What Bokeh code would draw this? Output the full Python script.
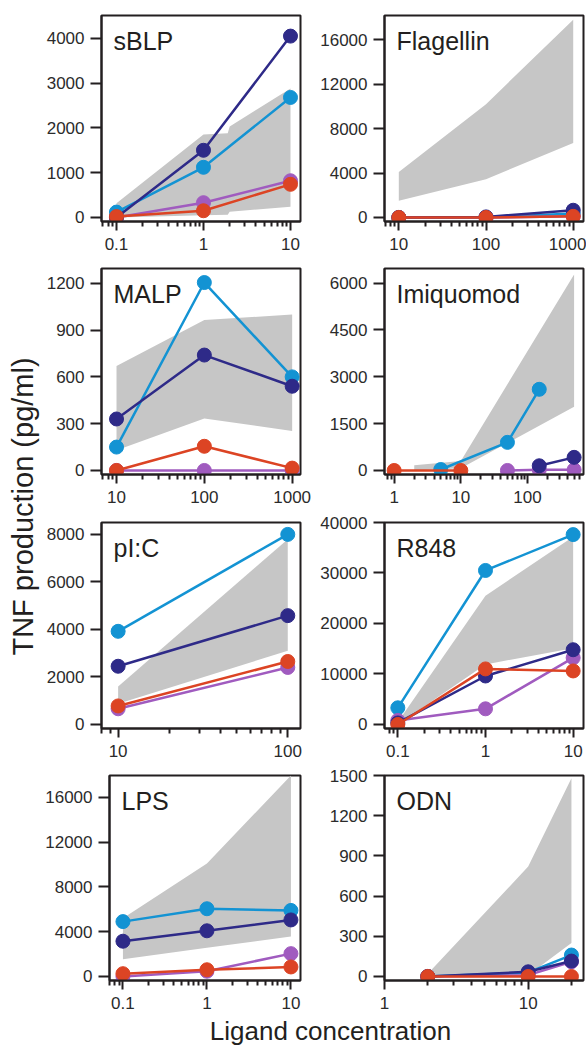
import math
from bokeh.plotting import figure
from bokeh.models import Range1d, FixedTicker, PrintfTickFormatter, Label
from bokeh.layouts import row, column
from bokeh.embed import file_html
from bokeh.resources import INLINE

# ---------------- data ----------------
# sBLP
sblp_x = [0.1, 1, 10]
sblp_lightblue = [120, 1120, 2680]
sblp_darkblue = [0, 1500, 4050]
sblp_purple = [0, 330, 820]
sblp_red = [20, 150, 740]
sblp_band_x = [0.1, 1, 1.9, 2, 10]
sblp_band_low = [0, 50, 60, 130, 240]
sblp_band_high = [320, 1850, 1880, 2030, 2880]
sblp_xticks = [0.1, 1, 10]
sblp_yticks = [0, 1000, 2000, 3000, 4000]

# Flagellin
flag_x = [10, 100, 1000]
flag_lightblue = [0, 0, 350]
flag_darkblue = [0, 50, 650]
flag_purple = [0, 0, 100]
flag_red = [0, 0, 100]
flag_band_x = [10, 100, 1000]
flag_band_low = [1500, 3450, 6700]
flag_band_high = [4100, 10200, 17800]
flag_xticks = [10, 100, 1000]
flag_yticks = [0, 4000, 8000, 12000, 16000]

# MALP
malp_x = [10, 100, 1000]
malp_lightblue = [150, 1205, 600]
malp_darkblue = [330, 740, 540]
malp_purple = [0, 0, 0]
malp_red = [0, 155, 15]
malp_band_x = [10, 100, 1000]
malp_band_low = [130, 333, 253]
malp_band_high = [670, 965, 1000]
malp_xticks = [10, 100, 1000]
malp_yticks = [0, 300, 600, 900, 1200]

# Imiquomod
imq_lightblue_x = [5, 50, 150]
imq_lightblue = [30, 900, 2600]
imq_purple_x = [50, 150, 500]
imq_purple = [0, 20, 20]
imq_darkblue_x = [150, 500]
imq_darkblue = [150, 420]
imq_red_x = [1, 10]
imq_red = [0, 0]
imq_band_x = [2, 10, 500]
imq_band_low = [0, 70, 2040]
imq_band_high = [170, 300, 6280]
imq_xticks = [1, 10, 100]
imq_yticks = [0, 1500, 3000, 4500, 6000]

# pI:C
pic_x = [10, 100]
pic_lightblue = [3920, 8000]
pic_darkblue = [2450, 4580]
pic_purple = [660, 2400]
pic_red = [780, 2650]
pic_band_x = [10, 100]
pic_band_low = [870, 3100]
pic_band_high = [1600, 7800]
pic_xticks = [10, 100]
pic_yticks = [0, 2000, 4000, 6000, 8000]

# R848
r848_x = [0.1, 1, 10]
r848_lightblue = [3300, 30500, 37600]
r848_darkblue = [300, 9600, 14800]
r848_purple = [800, 3100, 13200]
r848_red = [0, 11000, 10600]
r848_band_x = [0.1, 1, 10]
r848_band_low = [0, 11900, 15100]
r848_band_high = [500, 25500, 37200]
r848_xticks = [0.1, 1, 10]
r848_yticks = [0, 10000, 20000, 30000, 40000]

# LPS
lps_x = [0.1, 1, 10]
lps_lightblue = [4900, 6050, 5900]
lps_darkblue = [3150, 4080, 5050]
lps_purple = [0, 470, 2040]
lps_red = [250, 600, 850]
lps_band_x = [0.1, 1, 10]
lps_band_low = [1550, 2560, 3580]
lps_band_high = [5200, 10100, 17950]
lps_xticks = [0.1, 1, 10]
lps_yticks = [0, 4000, 8000, 12000, 16000]

# ODN
odn_x = [2, 10, 20]
odn_lightblue = [0, 30, 160]
odn_darkblue = [0, 35, 115]
odn_purple = [0, 10, 110]
odn_red = [0, 0, 0]
odn_band_x = [2, 10, 20]
odn_band_low = [0, 10, 250]
odn_band_high = [20, 820, 1480]
odn_xticks = [1, 10]
odn_yticks = [0, 300, 600, 900, 1200, 1500]

# ---------------- style ----------------
FONT = "Liberation Sans"
INK = "#231f20"
TXT = "#2b2b2b"
C_LB = "#1393d3"
C_DB = "#2e2a88"
C_PU = "#a05bbf"
C_RD = "#dc4424"
C_BAND = "#c6c6c6"

YLAB_W = 42
LEFT_W, LEFT_BL, LEFT_BR = 273, 59, 15
RIGHT_W, RIGHT_BL, RIGHT_BR = 271, 69, 3
# (figure height, top border, bottom border)
ROWS = [(257, 15, 36), (254, 11, 37), (253, 11, 36), (252, 11, 36)]
XLAB_H = 29


def minor_ticks(lo, hi):
    out = []
    for d in range(math.floor(lo) - 1, math.ceil(hi) + 1):
        for m in range(2, 10):
            v = m * 10.0 ** d
            if 10 ** lo <= v <= 10 ** hi:
                out.append(v)
    return out


def panel(name, side, rowi, xlim, ytop, xticks, yticks, band, series):
    fh, bt, bb = ROWS[rowi]
    if side == "L":
        w, bl, br = LEFT_W, LEFT_BL, LEFT_BR
    else:
        w, bl, br = RIGHT_W, RIGHT_BL, RIGHT_BR
    p = figure(width=w, height=fh, x_axis_type="log", title=None,
               x_range=Range1d(10 ** xlim[0], 10 ** xlim[1]),
               y_range=Range1d(-0.02 * ytop, ytop),
               min_border_left=bl, min_border_right=br,
               min_border_top=bt, min_border_bottom=bb,
               output_backend="svg", toolbar_location=None)
    p.xgrid.visible = False
    p.ygrid.visible = False
    p.outline_line_color = INK
    p.outline_line_width = 2
    p.outline_line_alpha = 1

    p.xaxis.ticker = FixedTicker(ticks=xticks, minor_ticks=minor_ticks(*xlim))
    p.xaxis.formatter = PrintfTickFormatter(format="%g")
    p.yaxis.ticker = FixedTicker(ticks=yticks)
    p.yaxis.formatter = PrintfTickFormatter(format="%d")
    for ax in (p.xaxis[0], p.yaxis[0]):
        ax.axis_line_color = INK
        ax.axis_line_width = 2
        ax.major_tick_line_color = INK
        ax.major_tick_line_width = 2
        ax.minor_tick_line_color = INK
        ax.minor_tick_line_width = 2
        ax.major_tick_in = 0
        ax.minor_tick_in = 0
        ax.major_label_text_font = FONT
        ax.major_label_text_font_size = "17px"
        ax.major_label_text_color = TXT
    p.xaxis.major_tick_out = 9
    p.xaxis.minor_tick_out = 5
    p.xaxis.major_label_standoff = 7
    p.yaxis.major_tick_out = 11
    p.yaxis.minor_tick_out = 0
    p.yaxis.major_label_standoff = 6

    bx, blo, bhi = band
    p.varea(x=bx, y1=blo, y2=bhi, fill_color=C_BAND, fill_alpha=1)
    for xs, ys, c in series:
        p.line(xs, ys, line_color=c, line_width=2.5)
        p.scatter(xs, ys, size=14, fill_color=c, line_color=c, line_width=1)

    frame_h = fh - bt - bb
    p.add_layout(Label(x=12, y=frame_h - 25, x_units="screen", y_units="screen",
                       text=name, text_font=FONT, text_font_size="25px",
                       text_color=INK, text_baseline="middle", text_align="left"))
    return p


p1 = panel("sBLP", "L", 0, (-1.172, 1.115), 4510, sblp_xticks, sblp_yticks,
           (sblp_band_x, sblp_band_low, sblp_band_high),
           [(sblp_x, sblp_lightblue, C_LB), (sblp_x, sblp_purple, C_PU),
            (sblp_x, sblp_darkblue, C_DB), (sblp_x, sblp_red, C_RD)])
p2 = panel("Flagellin", "R", 0, (0.836, 3.118), 18180, flag_xticks, flag_yticks,
           (flag_band_x, flag_band_low, flag_band_high),
           [(flag_x, flag_lightblue, C_LB), (flag_x, flag_purple, C_PU),
            (flag_x, flag_darkblue, C_DB), (flag_x, flag_red, C_RD)])
p3 = panel("MALP", "L", 1, (0.829, 3.095), 1295, malp_xticks, malp_yticks,
           (malp_band_x, malp_band_low, malp_band_high),
           [(malp_x, malp_lightblue, C_LB), (malp_x, malp_purple, C_PU),
            (malp_x, malp_darkblue, C_DB), (malp_x, malp_red, C_RD)])
p4 = panel("Imiquomod", "R", 1, (-0.145, 2.84), 6470, imq_xticks, imq_yticks,
           (imq_band_x, imq_band_low, imq_band_high),
           [(imq_lightblue_x, imq_lightblue, C_LB), (imq_purple_x, imq_purple, C_PU),
            (imq_darkblue_x, imq_darkblue, C_DB), (imq_red_x, imq_red, C_RD)])
p5 = panel("pI:C", "L", 2, (0.902, 2.075), 8500, pic_xticks, pic_yticks,
           (pic_band_x, pic_band_low, pic_band_high),
           [(pic_x, pic_lightblue, C_LB), (pic_x, pic_purple, C_PU),
            (pic_x, pic_darkblue, C_DB), (pic_x, pic_red, C_RD)])
p6 = panel("R848", "R", 2, (-1.152, 1.118), 40000, r848_xticks, r848_yticks,
           (r848_band_x, r848_band_low, r848_band_high),
           [(r848_x, r848_lightblue, C_LB), (r848_x, r848_purple, C_PU),
            (r848_x, r848_darkblue, C_DB), (r848_x, r848_red, C_RD)])
p7 = panel("LPS", "L", 3, (-1.16, 1.114), 17950, lps_xticks, lps_yticks,
           (lps_band_x, lps_band_low, lps_band_high),
           [(lps_x, lps_lightblue, C_LB), (lps_x, lps_purple, C_PU),
            (lps_x, lps_darkblue, C_DB), (lps_x, lps_red, C_RD)])
p8 = panel("ODN", "R", 3, (0.0, 1.385), 1500, odn_xticks, odn_yticks,
           (odn_band_x, odn_band_low, odn_band_high),
           [(odn_x, odn_lightblue, C_LB), (odn_x, odn_purple, C_PU),
            (odn_x, odn_darkblue, C_DB), (odn_x, odn_red, C_RD)])


def text_fig(w, h):
    f = figure(width=w, height=h, x_range=Range1d(0, 1), y_range=Range1d(0, 1),
               x_axis_location=None, y_axis_location=None, title=None,
               min_border=0, min_border_left=0, min_border_right=0,
               min_border_top=0, min_border_bottom=0,
               output_backend="svg", toolbar_location=None)
    f.xgrid.visible = False
    f.ygrid.visible = False
    f.outline_line_color = None
    return f


grid_h = sum(r[0] for r in ROWS)
ylab = text_fig(YLAB_W, grid_h)
ylab.add_layout(Label(x=22.5, y=grid_h - 506, x_units="screen", y_units="screen",
                      text="TNF production (pg/ml)", angle=math.pi / 2,
                      text_font=FONT, text_font_size="29px", text_color=INK,
                      text_align="center", text_baseline="middle"))

xlab = text_fig(YLAB_W + LEFT_W + RIGHT_W, XLAB_H)
xlab.add_layout(Label(x=330, y=14.5, x_units="screen", y_units="screen",
                      text="Ligand concentration",
                      text_font=FONT, text_font_size="26px", text_color=INK,
                      text_align="center", text_baseline="middle"))

grid = column(row(p1, p2), row(p3, p4), row(p5, p6), row(p7, p8))
layout = column(row(ylab, grid), xlab)

open("out.html", "w").write(file_html(layout, INLINE))
